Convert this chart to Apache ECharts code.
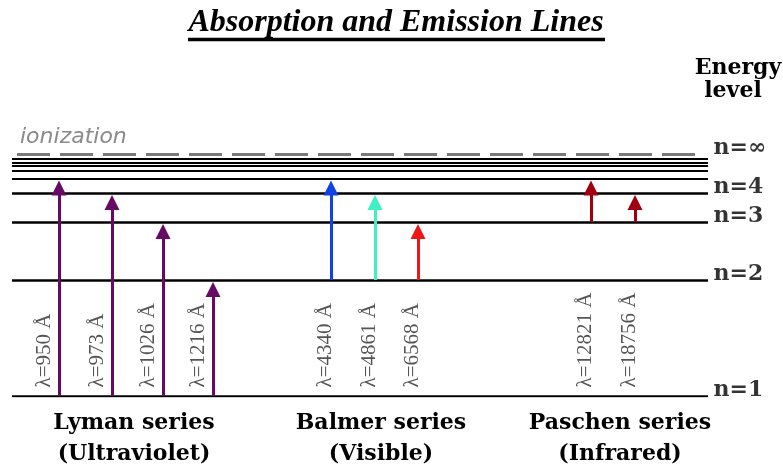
<!DOCTYPE html>
<html><head><meta charset="utf-8">
<script src="https://cdn.jsdelivr.net/npm/echarts@6/dist/echarts.min.js"></script>
<style>html,body{margin:0;padding:0;background:#fff}#c{width:783px;height:472px}</style>
</head><body><div id="c"></div>
<script>
// ---- data (schematic energy: height above the ground state, diagram units) ----
const levelNames = ['n=1', 'n=2', 'n=3', 'n=4', 'n=5', 'n=6', 'n=7', 'n=8', 'n=9'];
const levelEnergy = [0, 116, 174, 203, 217.5, 225, 230, 233.5, 237];
const labeledLevels = ['n=1', 'n=2', 'n=3', 'n=4'];
const ionizationName = 'n=\u221E';
const ionizationEnergy = 242;

const lymanX = [59, 112, 163, 213];
const lymanUpper = [5, 4, 3, 2];
const lymanLambda = [950, 973, 1026, 1216];

const balmerX = [331, 375, 418];
const balmerUpper = [5, 4, 3];
const balmerLambda = [4340, 4861, 6568];

const paschenX = [591, 635];
const paschenUpper = [5, 4];
const paschenLambda = [12821, 18756];

const groupNames = ['Lyman series', 'Balmer series', 'Paschen series'];
const groupBands = ['(Ultraviolet)', '(Visible)', '(Infrared)'];
const groupLabelX = [134, 381, 620];

// ---- styles ----
const lymanColor = '#660a66';
const balmerColors = ['#1242e6', '#3ff0c2', '#f01616'];
const paschenColor = '#a0000f';
const LINE_X0 = 12, LINE_X1 = 708, DASH_X0 = 17, DASH_X1 = 700;
const ARROW_SIZE = 15, ARROW_BACK = 9.5;

const E = n => levelEnergy[n - 1];

function arrows(xs, lower, uppers, colorFn) {
  return xs.map((x, i) => ({
    coords: [[x, E(lower)], [x, E(uppers[i]) - ARROW_BACK]],
    lineStyle: { color: colorFn(i) }
  }));
}
const arrowData = []
  .concat(arrows(lymanX, 1, lymanUpper, () => lymanColor))
  .concat(arrows(balmerX, 2, balmerUpper, i => balmerColors[i]))
  .concat(arrows(paschenX, 3, paschenUpper, () => paschenColor));

const levelLineData = levelEnergy.map((e, i) => ({
  coords: [[LINE_X0, e], [LINE_X1, e]],
  lineStyle: { width: i < 4 ? 2.6 : 2.2 }
}));
levelLineData.push({
  coords: [[DASH_X0, ionizationEnergy], [DASH_X1, ionizationEnergy]],
  lineStyle: { color: '#7a7a7a', width: 3, type: [33, 10] }
});

const levelLabelData = levelNames
  .map((n, i) => ({ name: n, value: [LINE_X1, levelEnergy[i]] }))
  .filter(d => labeledLevels.includes(d.name));
levelLabelData.push({ name: ionizationName, value: [LINE_X1, ionizationEnergy] });

function lambdaLabels(xs, lambdas, dx) {
  return xs.map((x, i) => ({ name: '\u03BB=' + lambdas[i] + ' \u00C5', value: [x, E(1)], dx: dx }));
}
const lambdaData = []
  .concat(lambdaLabels(lymanX, lymanLambda, -14))
  .concat(lambdaLabels(balmerX, balmerLambda, -5))
  .concat(lambdaLabels(paschenX, paschenLambda, -5));

const chart = echarts.init(document.getElementById('c'), null, { renderer: 'canvas' });

const groupTexts = [];
groupNames.forEach((g, i) => {
  groupTexts.push({ type: 'text', x: groupLabelX[i], y: 423, style: { text: g, font: 'bold 22px "DejaVu Serif"', fill: '#000', align: 'center', verticalAlign: 'middle' } });
  groupTexts.push({ type: 'text', x: groupLabelX[i], y: 454, style: { text: groupBands[i], font: 'bold 22px "DejaVu Serif"', fill: '#000', align: 'center', verticalAlign: 'middle' } });
});

chart.setOption({
  animation: false,
  backgroundColor: '#fff',
  grid: { left: 0, right: 0, top: 154, bottom: 76 },
  xAxis: { type: 'value', min: 0, max: 783, show: false },
  yAxis: { type: 'value', min: 0, max: 242, show: false },
  graphic: [
    { type: 'text', x: 396, y: 23, style: { text: 'Absorption and Emission Lines', font: 'italic bold 32px "Liberation Serif"', fill: '#000', align: 'center', verticalAlign: 'middle' } },
    { type: 'line', shape: { x1: 188, y1: 39.5, x2: 605, y2: 39.5 }, style: { stroke: '#000', lineWidth: 3.5 } },
    { type: 'text', x: 738, y: 68, style: { text: 'Energy', font: 'bold 22px "DejaVu Serif"', fill: '#000', align: 'center', verticalAlign: 'middle' } },
    { type: 'text', x: 733, y: 91, style: { text: 'level', font: 'bold 22px "DejaVu Serif"', fill: '#000', align: 'center', verticalAlign: 'middle' } },
    { type: 'text', x: 20, y: 137, style: { text: 'ionization', font: 'italic 22px "DejaVu Sans"', fill: '#8a8a8a', align: 'left', verticalAlign: 'middle' } }
  ].concat(groupTexts),
  series: [
    {
      type: 'lines', coordinateSystem: 'cartesian2d', z: 2,
      lineStyle: { color: '#000', width: 2.6, opacity: 1 },
      symbol: 'none',
      data: levelLineData
    },
    {
      type: 'lines', coordinateSystem: 'cartesian2d', z: 3,
      lineStyle: { width: 3, opacity: 1 },
      symbol: ['none', 'triangle'], symbolSize: ARROW_SIZE,
      data: arrowData
    },
    {
      type: 'scatter', z: 4, symbolSize: 1, itemStyle: { color: 'rgba(0,0,0,0)' },
      label: {
        show: true, position: 'right', distance: 5, offset: [0, -6],
        formatter: p => p.name,
        fontFamily: 'DejaVu Serif', fontWeight: 'bold', fontSize: 22, color: '#000'
      },
      data: levelLabelData
    },
    {
      type: 'scatter', z: 4, symbolSize: 1, itemStyle: { color: 'rgba(0,0,0,0)' },
      label: {
        show: true, rotate: 90, align: 'left', verticalAlign: 'middle',
        formatter: p => p.name,
        fontFamily: 'Liberation Serif', fontSize: 21, color: '#2a2a2a'
      },
      data: lambdaData.map(d => ({ name: d.name, value: d.value, label: { position: [d.dx, -8] } }))
    }
  ]
});
</script></body></html>
